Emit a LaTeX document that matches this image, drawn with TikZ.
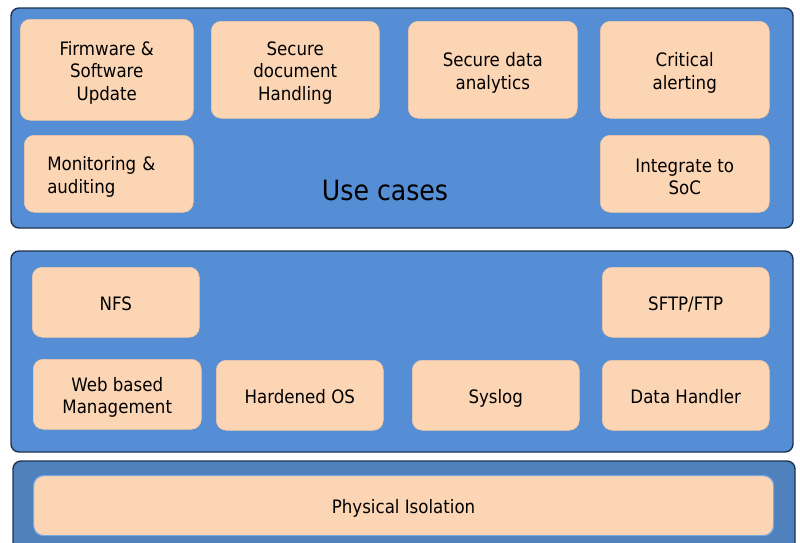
\documentclass[tikz,border=0pt]{standalone}
\usepackage{fontspec}
\setmainfont{DejaVu Sans Condensed}
\definecolor{panelblue}{HTML}{558ED5}
\definecolor{paneldark}{HTML}{4F81BD}
\definecolor{panelline}{HTML}{1F3350}
\definecolor{peach}{HTML}{FCD5B5}
\definecolor{peachline}{HTML}{F2C8A4}
\definecolor{glow}{HTML}{78A8E0}
\tikzset{
  panel/.style={draw=panelline, line width=1.4pt, fill=panelblue, rounded corners=8pt},
  box/.style={draw=peachline, line width=0.5pt, fill=peach, rounded corners=10pt, anchor=north west, inner sep=0pt},
  txt/.style={align=center, inner sep=0pt, font=\fontsize{18.5}{22.5}\selectfont, text=black},
  multi/.style={yshift=-3pt},
  one/.style={text height=16pt, text depth=0pt},
}
\newcommand{\bx}[7]{% name, x1, y1, x2, y2, text, label options
  \node[box, minimum width={(#4-#2)*1pt}, minimum height={(#5-#3)*1pt}, label={[txt,#7]center:{#6}}] (#1) at (#2,#3) {};}
\begin{document}
\begin{tikzpicture}[x=1pt, y=-1pt]
\useasboundingbox (0,0) rectangle (800,542);
% panels
\draw[panel] (11,8) rectangle (793,228);
\draw[panel] (11,251) rectangle (793,452);
\draw[panel, fill=paneldark] (13,461) rectangle (795,560);
% top panel
\bx{fw}{20}{19}{193}{120}{Firmware \&\\Software\\Update}{multi}
\bx{sd}{211}{21}{379}{118}{Secure\\document\\Handling}{multi}
\bx{sa}{408}{21}{577}{118}{Secure data\\analytics}{multi}
\bx{ca}{600}{21}{769}{118}{Critical\\alerting}{multi}
\bx{mon}{24}{135}{193}{212}{Monitoring \&\\auditing}{multi, text width=123pt, align=left}
\bx{soc}{600}{135}{769}{212}{Integrate to\\SoC}{multi}
\node[font=\fontsize{28}{34}\selectfont, anchor=base, inner sep=0pt] (uc) at (385,200) {Use cases};
% middle panel
\bx{nfs}{32}{267}{199}{337}{NFS}{one}
\bx{sftp}{602}{267}{769}{337}{SFTP/FTP}{one}
\bx{web}{33}{359}{201}{429}{Web based\\Management}{multi}
\bx{hos}{216}{360}{383}{430}{Hardened OS}{one}
\bx{sys}{412}{360}{579}{430}{Syslog}{one}
\bx{dh}{602}{360}{769}{430}{Data Handler}{one}
% bottom panel
\node[box, draw=glow, line width=1.2pt, minimum width=740pt, minimum height=60pt,
  label={[txt,one]center:Physical Isolation}] (phy) at (33,475) {};
\end{tikzpicture}
\end{document}
